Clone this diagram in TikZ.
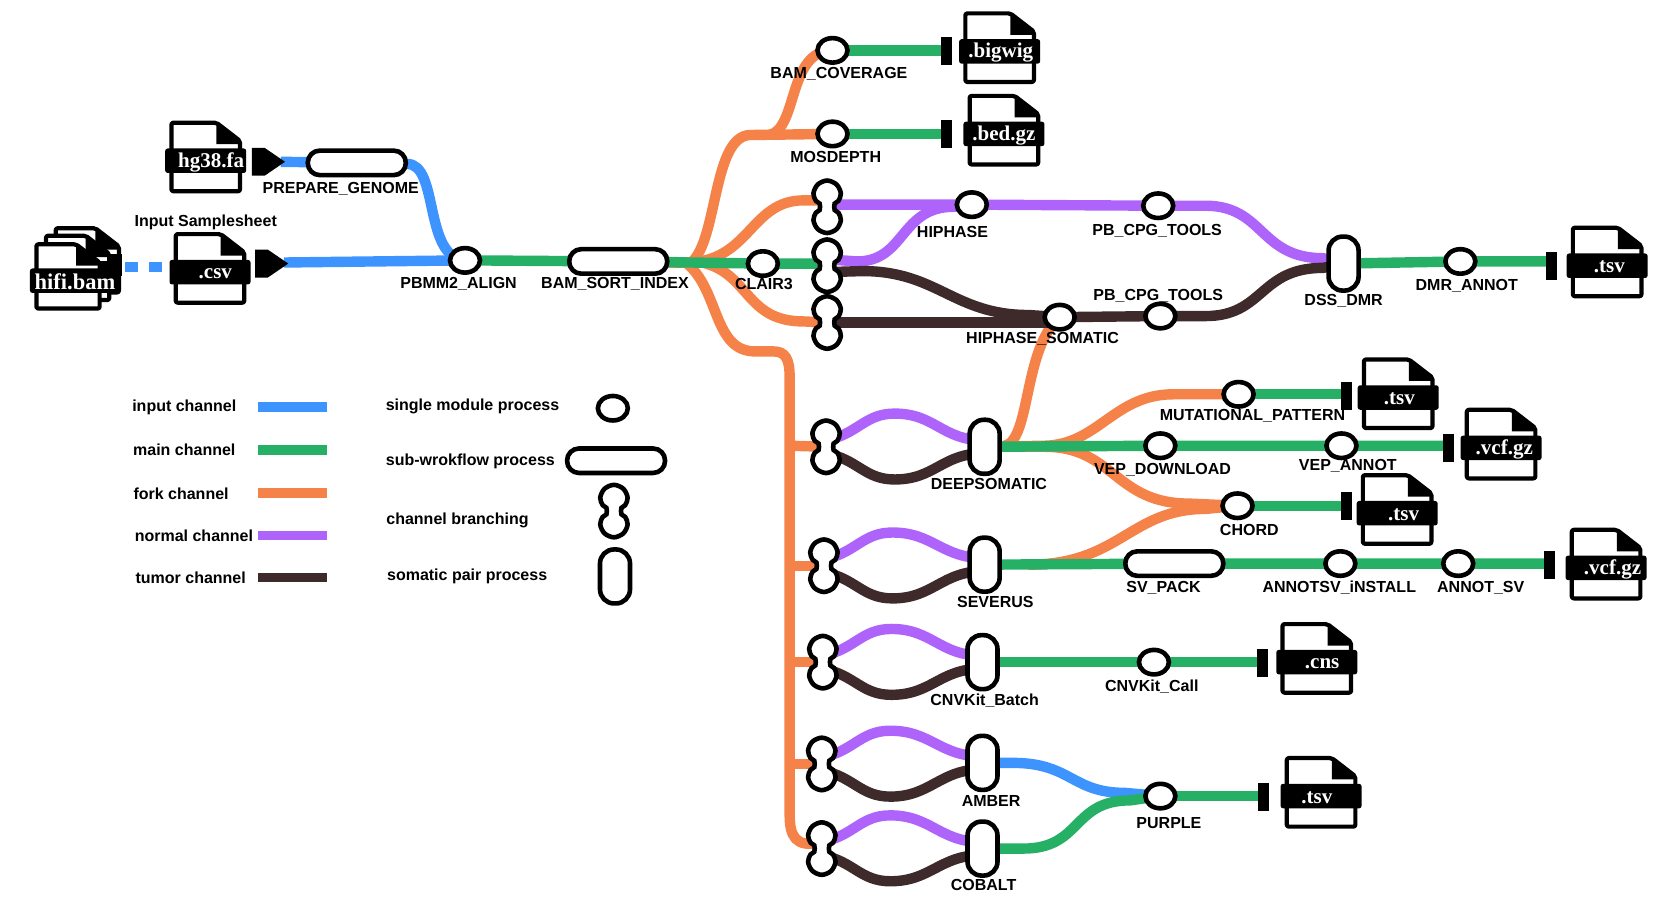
\documentclass[tikz,border=0pt]{standalone}
\usepackage{fontspec}
\setmainfont{Liberation Sans}
\newfontfamily\serifb{Liberation Serif}
\usetikzlibrary{shapes.geometric,calc,backgrounds}
\definecolor{cblue}{HTML}{3E94FF}
\definecolor{cgreen}{HTML}{25B066}
\definecolor{corange}{HTML}{F58349}
\definecolor{cpurple}{HTML}{AE64FA}
\definecolor{cdark}{HTML}{3E2A2A}
\tikzset{
  x=1.07143pt,y=-1.07143pt,
  lbl/.style={inner sep=0pt,yshift=-0.8pt,font=\fontsize{16}{18}\selectfont\bfseries},
  leg/.style={inner sep=0pt,font=\fontsize{16}{18}\selectfont\bfseries},
  procn/.style={ellipse,draw=black,fill=white,line width=4.6pt,minimum width=30pt,minimum height=24.5pt,inner sep=0pt},
  subn/.style={rectangle,draw=black,fill=white,line width=4.6pt,rounded corners=12pt,minimum width=98pt,minimum height=24.5pt,inner sep=0pt},
  pairn/.style={rectangle,draw=black,fill=white,line width=4.6pt,rounded corners=14pt,minimum width=30pt,minimum height=54pt,inner sep=0pt},
  hubn/.style={inner sep=0pt,minimum size=1pt},
  fband/.style={rectangle,fill=black,rounded corners=2.5pt,minimum width=81pt,minimum height=24.5pt,inner sep=0pt},
  ftext/.style={inner sep=0pt,yshift=-1.5pt,text=white,font=\fontsize{21}{23}\selectfont\serifb\bfseries},
  termn/.style={rectangle,fill=black,minimum width=11pt,minimum height=28pt,inner sep=0pt},
  wire/.style={line width=10.4pt,line cap=butt,line join=round},
  cb/.style={wire,draw=cblue},
  cg/.style={wire,draw=cgreen},
  co/.style={wire,draw=corange},
  cp/.style={wire,draw=cpurple},
  cd/.style={wire,draw=cdark},
  legbar/.style={rectangle,minimum width=68.5pt,minimum height=9.5pt,inner sep=0pt},
}
\newcommand{\filesh}[4]{%
  \begin{scope}[shift={(#1,#2)}]
    \filldraw[fill=white,draw=black,line width=4.2pt,rounded corners=2pt,line join=round] (0,0) -- (#3-22,0) -- (#3,17) -- (#3,#4) -- (0,#4) -- cycle;
    \fill[black] (#3-22,0) -- (#3,17) -- (#3,20) -- (#3-22,20) -- cycle;
  \end{scope}}
\newcommand{\fileb}[5]{%
  \filesh{#2-32}{#3-35.5}{64}{64}%
  \node[fband] (#1) at (#2,#3) {};
  \node[ftext] (#1-t) at ($(#1)+(#4,0)$) {#5};}
\newcommand{\hubb}[3]{%
  \begin{scope}[shift={(#2,#3)}]
    \filldraw[fill=white,draw=black,line width=4.6pt,tension=0.55] plot[smooth cycle] coordinates {(0,-24.5) (8.8,-20.8) (12.8,-12.5) (10.5,-5.5) (7,-3) (7,3) (10.5,5.5) (12.8,12.5) (8.8,20.8) (0,24.5) (-8.8,20.8) (-12.8,12.5) (-10.5,5.5) (-7,3) (-7,-3) (-10.5,-5.5) (-12.8,-12.5) (-8.8,-20.8)};
  \end{scope}
  \node[hubn] (#1) at (#2,#3) {};
  \coordinate (#1-t) at (#2,#3-6);
  \coordinate (#1-b) at (#2,#3+6);}
\newcommand{\pairb}[3]{%
  \node[pairn] (#1) at (#2,#3) {};
  \coordinate (#1-t) at (#2,#3-6);
  \coordinate (#1-b) at (#2,#3+6);}
\newcommand{\lobes}[2]{%
  \coordinate (#1-p) at ($(#1)+(64,-31)$);
  \coordinate (#1-q) at ($(#1)+(64,30.5)$);
  \draw[cp] (#1-t) .. controls +(30,-6) and +(-28,0) .. (#1-p) .. controls +(38,0) and +(-40,0) .. (#2-t);
  \draw[cd] (#1-b) .. controls +(30,6) and +(-28,0) .. (#1-q) .. controls +(38,0) and +(-40,0) .. (#2-b);}
\begin{document}
\begin{tikzpicture}
\useasboundingbox (0,0) rectangle (1568,844);
% --- hubs and process nodes
\hubb{ha}{772}{193}
\hubb{hb}{772}{248}
\hubb{hc}{772}{301}
\hubb{hd}{771}{417}
\hubb{he}{769}{528}
\hubb{hf}{768}{618}
\hubb{hg}{767}{713}
\hubb{hh}{767}{792}
\hubb{hleg}{573}{477}
\pairb{dss}{1254}{246}
\pairb{deep}{919}{417}
\pairb{sev}{919}{527}
\pairb{cnvb}{917}{618}
\pairb{amb}{917}{712}
\pairb{cob}{917}{792}
\pairb{pleg}{574}{538}
\node[subn] (prep) at (333,152) {};
\node[subn] (bsi) at (577,244) {};
\node[subn] (svp) at (1096,526) {};
\node[subn] (sleg) at (575,430) {};
\node[procn] (pbmm) at (434,243) {};
\node[procn] (bcov) at (777,47) {};
\node[procn] (mosd) at (777,125) {};
\node[procn] (clair) at (712,246) {};
\node[procn] (hip) at (907,191) {};
\node[procn] (pcga) at (1081,192) {};
\node[procn] (pcgb) at (1083,295) {};
\node[procn] (hsom) at (989,296) {};
\node[procn] (dmra) at (1363,244) {};
\node[procn] (mut) at (1156,368) {};
\node[procn] (vepd) at (1083,416) {};
\node[procn] (vepa) at (1252,416) {};
\node[procn] (chord) at (1155,472) {};
\node[procn] (atsi) at (1251,526) {};
\node[procn] (atsv) at (1361,526) {};
\node[procn] (cnvc) at (1077,618) {};
\node[procn] (purp) at (1083,743) {};
\node[procn] (cleg) at (572,381) {};
% --- output bars
\node[termn] (tbw) at (883,48) {};
\node[termn] (tbd) at (883,125) {};
\node[termn] (tdm) at (1448,248) {};
\node[termn] (tmu) at (1257,370) {};
\node[termn] (tvc) at (1352,418) {};
\node[termn] (tch) at (1257,472) {};
\node[termn] (tv2) at (1446,527) {};
\node[termn] (tcn) at (1178,619) {};
\node[termn] (tpu) at (1179,744) {};
% --- input arrows
\fill[black] (235,138) -- (247,138) -- (266,151) -- (247,164) -- (235,164) -- cycle;
\coordinate (tipa) at (262,151);
\fill[black] (238,233) -- (250,233) -- (269,246) -- (250,259) -- (238,259) -- cycle;
\coordinate (tipb) at (265,245);
% --- files
\filesh{52}{213}{59}{60}
\fill[black] (50,237) rectangle (114,258);
\filesh{43}{220}{59}{60}
\fill[black] (45,244) rectangle (112,266);
\filesh{34}{228}{59}{60}
\node[fband,minimum width=88pt] (hifi) at (69,262) {};
\node[ftext,font=\fontsize{22.5}{24}\selectfont\serifb\bfseries] (hifi-t) at (70,262) {hifi.bam};
\fileb{hgf}{192}{150}{5}{hg38.fa}
\fileb{csv}{196}{254}{5}{.csv}
\fileb{bw}{933}{48}{1}{.bigwig}
\fileb{bd}{937}{125}{0}{.bed.gz}
\fileb{tsa}{1500}{248}{2}{.tsv}
\fileb{tsb}{1305}{371}{1}{.tsv}
\fileb{vca}{1401}{418}{3}{.vcf.gz}
\fileb{tsc}{1304}{479}{6}{.tsv}
\fileb{vcb}{1499}{530}{6}{.vcf.gz}
\fileb{cns}{1229}{618}{5}{.cns}
\fileb{tsd}{1233}{743}{-4}{.tsv}
% --- connectors
\begin{pgfonlayer}{background}
\coordinate (dda) at (117,249);
\coordinate (ddb) at (152,249);
\coordinate (orfork) at (718,126);
\coordinate (orel) at (737,352);
\coordinate (dmut) at (975,416);
\coordinate (dcho) at (975,417);
\coordinate (scho) at (960,527);
\coordinate (dtop) at (938,416);
% orange
\draw[co] (bsi.center) -- (645,245) .. controls (670,225) and (665,127) .. (700,126) -- (mosd.center);
\draw[co] (orfork) .. controls (745,120) and (735,47) .. (bcov.center);
\draw[co] (bsi.center) -- (640,245) .. controls (700,245) and (700,187) .. (750,187) -- (ha-t);
\draw[co] (bsi.center) -- (655,245) .. controls (700,255) and (695,300) .. (750,300) -- (hc.center);
\draw[co] (bsi.center) -- (640,245) .. controls (672,270) and (665,328) .. (705,328) -- (722,328) .. controls (733,328) and (737,335) .. (orel) -- (737,760) .. controls (737,780) and (742,792) .. (hh-t);
\draw[co] (737,416) -- (hd.center);
\draw[co] (737,528) -- (he.center);
\draw[co] (737,618) -- (hf.center);
\draw[co] (737,713) -- (hg.center);
\draw[co] (dtop) .. controls (962,410) and (955,325) .. (hsom.center);
\draw[co] (deep.center) -- (dmut) .. controls (1025,415) and (1040,368) .. (1095,368) -- (mut.center);
\draw[co] (deep.center) -- (dcho) .. controls (1040,417) and (1040,470) .. (1110,470) -- (chord.center);
\draw[co] (scho) .. controls (1045,527) and (1055,475) .. (1125,475) -- (chord.center);
% blue
\draw[cb,dash pattern=on 13pt off 11pt] (dda) -- (ddb);
\draw[cb] (tipa) -- (prep.center);
\draw[cb] (prep.center) -- (380,153) .. controls (410,153) and (395,240) .. (pbmm.center);
\draw[cb] (tipb) -- (pbmm.center);
\draw[cb] (amb.center) -- (945,712) .. controls (1000,712) and (1000,740) .. (1050,740) -- (purp.center);
% green
\draw[cg] (pbmm.center) -- (bsi.center) -- (clair.center) -- (hb.center |- clair.center);
\draw[cg] (bcov.center) -- (tbw.center |- bcov.center);
\draw[cg] (mosd.center) -- (tbd.center |- mosd.center);
\draw[cg] (dss.center) -- (dmra.center) -- (tdm.center |- dmra.center);
\draw[cg] (mut.center) -- (tmu.center |- mut.center);
\draw[cg] (deep.center) -- (vepd.center) -- (vepa.center) -- (tvc.center |- vepa.center);
\draw[cg] (chord.center) -- (tch);
\draw[cg] (sev.center) -- (svp.center) -- (atsi.center) -- (atsv.center) -- (tv2.center |- atsv.center);
\draw[cg] (cnvb.center) -- (cnvc.center) -- (tcn.center |- cnvc.center);
\draw[cg] (cob.center) -- (955,792) .. controls (1010,792) and (1000,747) .. (1055,747) -- (purp.center);
\draw[cg] (purp.center) -- (tpu.center |- purp.center);
% purple
\draw[cp] (ha.center |- hip.center) -- (hip.center) -- (pcga.center) -- (1125,192) .. controls (1180,192) and (1175,241) .. (1235,241) -- (dss.center);
\draw[cp] (hb-t) -- (800,244) .. controls (845,244) and (840,193) .. (890,193) -- (hip.center);
% dark
\draw[cd] (hb-b) -- (805,253) .. controls (875,253) and (890,294) .. (960,294) -- (hsom.center);
\draw[cd] (hc.center) -- (hsom.center |- hc.center);
\draw[cd] (hsom.center) -- (pcgb.center) -- (1125,295) .. controls (1180,295) and (1175,250) .. (1235,250) -- (dss.center);
\lobes{hd}{deep}
\lobes{he}{sev}
\lobes{hf}{cnvb}
\lobes{hg}{amb}
\lobes{hh}{cob}
\end{pgfonlayer}
% --- labels
\node[lbl] (l1) at (318,176) {PREPARE\_GENOME};
\node[lbl] (l2) at (192,207) {Input Samplesheet};
\node[lbl] (l3) at (428,264) {PBMM2\_ALIGN};
\node[lbl] (l4) at (574,264) {BAM\_SORT\_INDEX};
\node[lbl] (l5) at (713,264) {CLAIR3};
\node[lbl] (l6) at (783,68) {BAM\_COVERAGE};
\node[lbl] (l7) at (780,146) {MOSDEPTH};
\node[lbl] (l8) at (889,216) {HIPHASE};
\node[lbl] (l9) at (1080,215) {PB\_CPG\_TOOLS};
\node[lbl] (l10) at (1081,275) {PB\_CPG\_TOOLS};
\node[lbl] (l11) at (973,316) {HIPHASE\_SOMATIC};
\node[lbl] (l12) at (1254,280) {DSS\_DMR};
\node[lbl] (l13) at (1369,266) {DMR\_ANNOT};
\node[lbl] (l14) at (1169,387) {MUTATIONAL\_PATTERN};
\node[lbl] (l15) at (923,451) {DEEPSOMATIC};
\node[lbl] (l16) at (1085,438) {VEP\_DOWNLOAD};
\node[lbl] (l17) at (1258,434) {VEP\_ANNOT};
\node[lbl] (l18) at (1166,494) {CHORD};
\node[lbl] (l19) at (929,561) {SEVERUS};
\node[lbl] (l20) at (1086,548) {SV\_PACK};
\node[lbl] (l21) at (1250,548) {ANNOTSV\_iNSTALL};
\node[lbl] (l22) at (1382,548) {ANNOT\_SV};
\node[lbl] (l23) at (919,653) {CNVKit\_Batch};
\node[lbl] (l24) at (1075,640) {CNVKit\_Call};
\node[lbl] (l25) at (925,747) {AMBER};
\node[lbl] (l26) at (1091,767) {PURPLE};
\node[lbl] (l27) at (918,825) {COBALT};
% --- legend
\node[leg] (g1) at (172,380.5) {input channel};
\node[leg] (g2) at (172,420) {main channel};
\node[leg] (g3) at (169,461) {fork channel};
\node[leg] (g4) at (181,500) {normal channel};
\node[leg] (g5) at (178,539) {tumor channel};
\node[legbar,fill=cblue] (b1) at (273,380) {};
\node[legbar,fill=cgreen] (b2) at (273,420) {};
\node[legbar,fill=corange] (b3) at (273,460) {};
\node[legbar,fill=cpurple] (b4) at (273,500) {};
\node[legbar,fill=cdark] (b5) at (273,539) {};
\node[leg] (g6) at (441,379.5) {single module process};
\node[leg] (g7) at (439,431) {sub-wrokflow process};
\node[leg] (g8) at (427,486) {channel branching};
\node[leg] (g9) at (436,538) {somatic pair process};
\end{tikzpicture}
\end{document}
